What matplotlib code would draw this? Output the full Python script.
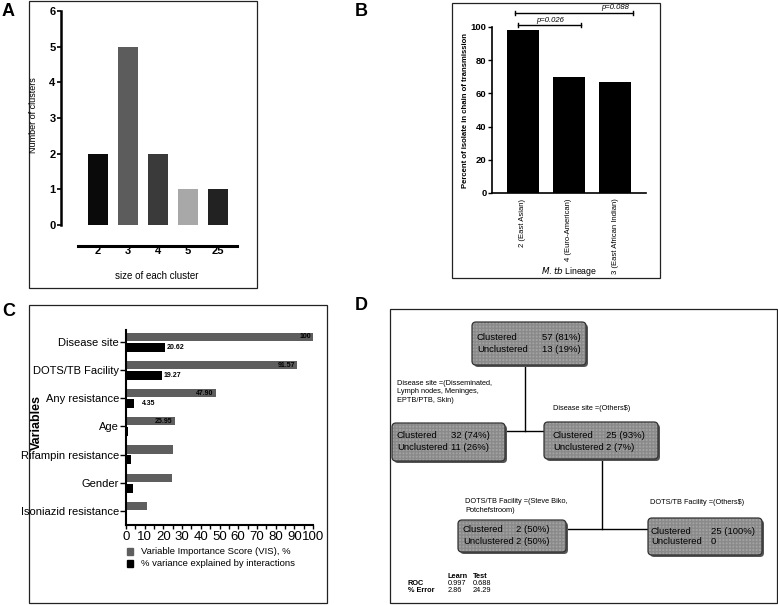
import matplotlib
matplotlib.use("Agg")
import matplotlib.pyplot as plt
from matplotlib.patches import Rectangle, FancyBboxPatch
import numpy as np

plt.rcParams['font.family'] = ['Liberation Sans', 'DejaVu Sans']

W, H = 778, 605

# ---------------- data ----------------
# Panel A
cluster_sizes = ['2', '3', '4', '5', '25']
num_clusters = [2, 5, 2, 1, 1]
a_colors = ['#0a0a0a', '#5c5c5c', '#3a3a3a', '#a8a8a8', '#222222']

# Panel B
lineages = ['2 (East Asian)', '4 (Euro-American)', '3 (East African Indian)']
percent_in_chain = [98, 70, 67]
p_values = ['p=0.026', 'p=0.088']

# Panel C
variables = ['Disease site', 'DOTS/TB Facility', 'Any resistance', 'Age',
             'Rifampin resistance', 'Gender', 'Isoniazid resistance']
vis_scores = [100, 91.57, 47.90, 25.95, 25.0, 24.4, 11.0]
interaction_var = [20.62, 19.27, 4.35, 1.0, 2.6, 3.5, 0.6]
vis_labels = ['100', '91.57', '47.90', '25.95', '', '', '']
int_labels = ['20.62', '19.27', '4.35', '', '', '', '']

# Panel D
node_clustered = ['57 (81%)', '32 (74%)', '25 (93%)', '2 (50%)', '25 (100%)']
node_unclustered = ['13 (19%)', '11 (26%)', '2 (7%)', '2 (50%)', '0']
split_labels = ['Disease site =(Disseminated,\nLymph nodes, Meninges,\nEPTB/PTB, Skin)',
                'Disease site =(Others$)',
                'DOTS/TB Facility =(Steve Biko,\nPotchefstroom)',
                'DOTS/TB Facility =(Others$)']
table_cols = ['Learn', 'Test']
table_rows = ['ROC', '% Error']
table_vals = [['0.997', '0.688'], ['2.86', '24.29']]

# ---------------- figure ----------------
fig = plt.figure(figsize=(W / 100, H / 100), dpi=100)


def ax_px(left, top, right, bottom):
    return [left / W, 1 - bottom / H, (right - left) / W, (bottom - top) / H]


ov = fig.add_axes([0, 0, 1, 1])
ov.set_xlim(0, W)
ov.set_ylim(H, 0)
ov.axis('off')
ov.set_zorder(0)

# panel frames
for (l, t, r, b) in [(29, 0.5, 257, 288), (452, 3, 660, 278), (29, 305, 327, 603), (390, 309, 777, 603)]:
    ov.add_patch(Rectangle((l, t), r - l, b - t, fill=False, edgecolor='#222222', lw=0.9))

for lab, x, y in [('A', 2, 12), ('B', 355, 12), ('C', 2, 311), ('D', 355, 305)]:
    ov.text(x, y, lab, fontsize=13, fontweight='bold', ha='left', va='center')

# ---------------- Panel A ----------------
axA = fig.add_axes(ax_px(61, 11, 237, 225))
axA.set_zorder(1)
axA.patch.set_visible(False)
xa = np.arange(len(cluster_sizes))
axA.bar(xa, num_clusters, width=0.667, color=a_colors, edgecolor='none')
axA.set_xlim(-37 / 30, 139 / 30)
axA.set_ylim(0, 6)
for s in ['top', 'right']:
    axA.spines[s].set_visible(False)
axA.spines['left'].set_linewidth(1.8)
axA.spines['bottom'].set_position(('outward', 15))
axA.spines['bottom'].set_bounds(-20 / 30, 139 / 30)
axA.spines['bottom'].set_linewidth(2.2)
axA.set_xticks(xa)
axA.set_xticklabels(cluster_sizes, fontsize=8, fontweight='bold')
axA.tick_params(axis='x', length=0, pad=0)
axA.set_yticks(range(7))
axA.tick_params(axis='y', length=3, width=1.2, labelsize=8, pad=1)
for t in axA.get_yticklabels():
    t.set_fontweight('bold')
ov.text(157, 276, 'size of each cluster', fontsize=7, ha='center', va='center')
ov.text(34, 115, 'Number of clusters', fontsize=6.5, ha='center', va='center', rotation=90)

# ---------------- Panel B ----------------
axB = fig.add_axes(ax_px(492, 27, 646, 193))
axB.set_zorder(1)
axB.patch.set_visible(False)
xb = np.arange(len(lineages))
axB.bar(xb, percent_in_chain, width=32 / 46, color='black', edgecolor='none')
axB.set_xlim(-31 / 46, 123 / 46)
axB.set_ylim(0, 100)
for s in ['top', 'right']:
    axB.spines[s].set_visible(False)
axB.spines['left'].set_linewidth(1.2)
axB.spines['bottom'].set_linewidth(1.2)
axB.set_yticks(range(0, 101, 20))
axB.tick_params(axis='y', length=3, width=1, labelsize=6.8, pad=1)
for t in axB.get_yticklabels():
    t.set_fontweight('bold')
axB.set_xticks(xb)
axB.set_xticklabels(lineages, rotation=90, fontsize=5.5)
axB.tick_params(axis='x', length=0, pad=4)
ov.text(569, 272, r'$\it{M.tb}$ Lineage', fontsize=6.3, ha='center', va='center')
ov.text(466, 110, 'Percent of isolate in chain of transmission', fontsize=5.6,
        fontweight='bold', ha='center', va='center', rotation=90)

brackets = [(-0.11, 1.26, 101.2, 0.59, 103.8), (-0.17, 2.39, 108.4, 2.0, 111.6)]
for (x0, x1, yb, xt, yt), pv in zip(brackets, p_values):
    axB.plot([x0, x1], [yb, yb], color='black', lw=1, clip_on=False)
    for xx in (x0, x1):
        axB.plot([xx, xx], [yb - 1.2, yb + 1.2], color='black', lw=1, clip_on=False)
    axB.text(xt, yt, pv, fontsize=5.5, style='italic', ha='center', va='center', clip_on=False)

# ---------------- Panel C ----------------
axC = fig.add_axes(ax_px(126, 330, 313, 525))
axC.set_zorder(1)
axC.patch.set_visible(False)
yc = np.arange(len(variables))
axC.barh(yc - 0.18, vis_scores, height=0.29, color='#5e5e5e', edgecolor='none')
axC.barh(yc + 0.19, interaction_var, height=0.32, color='black', edgecolor='none')
axC.set_ylim(6.5, -0.426)
axC.set_xlim(0, 100)
for s in ['top', 'right']:
    axC.spines[s].set_visible(False)
axC.spines['left'].set_linewidth(1.5)
axC.spines['bottom'].set_linewidth(1.5)
axC.set_yticks(yc)
axC.set_yticklabels(variables, fontsize=8)
axC.tick_params(axis='y', length=4, width=1, pad=1)
axC.set_xticks(range(0, 101, 10))
axC.set_xticks(range(0, 101, 5), minor=True)
axC.tick_params(axis='x', which='both', length=3, width=1, labelsize=9.5, pad=1.5)
ov.text(37, 423, 'Variables', fontsize=9, fontweight='bold', ha='center', va='center',
        rotation=90, zorder=5)
for i, (v, lab) in enumerate(zip(vis_scores, vis_labels)):
    if lab:
        axC.text(v - 1, i - 0.18, lab, fontsize=5, fontweight='bold', ha='right', va='center')
for i, (v, lab) in enumerate(zip(interaction_var, int_labels)):
    if lab:
        axC.text(v + 1 if v > 10 else v + 4, i + 0.19, lab, fontsize=5, fontweight='bold',
                 ha='left', va='center')

# legend for C
ov.add_patch(Rectangle((127, 548), 6.5, 6.5, color='#5e5e5e'))
ov.add_patch(Rectangle((127, 560), 6.5, 6.5, color='black'))
ov.text(141, 551.5, 'Variable Importance Score (VIS), %', fontsize=6.8, va='center')
ov.text(141, 563.5, '% variance explained by interactions', fontsize=6.8, va='center')

# ---------------- Panel D (tree) ----------------
# nodes: (left, top, right, bottom, x_label, x_value, y_line1, y_line2)
nodes = [(472, 322, 586, 365, 477, 542, 338, 350),
         (392, 423, 505, 461, 397, 451, 436, 447),
         (544, 422, 658, 459, 553, 606, 436, 447),
         (458, 520, 566, 552, 463, 516, 530, 541),
         (648, 518, 762, 555, 651, 711, 531, 542)]
for (l, t, r, b, xl, xv, y1, y2), c, u in zip(nodes, node_clustered, node_unclustered):
    ov.add_patch(FancyBboxPatch((l + 2, t + 2), r - l, b - t, boxstyle='round,pad=0,rounding_size=4',
                                facecolor='#555555', edgecolor='none', zorder=2))
    ov.add_patch(FancyBboxPatch((l, t), r - l, b - t, boxstyle='round,pad=0,rounding_size=4',
                                facecolor='#a2a2a2', edgecolor='#8a8a8a', lw=0, hatch='+++++', zorder=3))
    ov.add_patch(FancyBboxPatch((l, t), r - l, b - t, boxstyle='round,pad=0,rounding_size=4',
                                facecolor='none', edgecolor='#333333', lw=0.9, zorder=4))
    ov.text(xl, y1, 'Clustered', fontsize=6.8, va='center', ha='left', zorder=5)
    ov.text(xl, y2, 'Unclustered', fontsize=6.8, va='center', ha='left', zorder=5)
    ov.text(xv, y1, c, fontsize=6.8, va='center', ha='left', zorder=5)
    ov.text(xv, y2, u, fontsize=6.8, va='center', ha='left', zorder=5)

lk = dict(color='black', lw=1, zorder=1)
ov.plot([525, 525], [365, 431], **lk)
ov.plot([505, 544], [431, 431], **lk)
ov.plot([602, 602], [459, 529], **lk)
ov.plot([566, 648], [529, 529], **lk)

ov.text(397, 380, split_labels[0], fontsize=5.3, va='top', ha='left', linespacing=1.25)
ov.text(553, 409, split_labels[1], fontsize=5.3, va='center', ha='left')
ov.text(465, 506, split_labels[2], fontsize=5.3, va='center', ha='left', linespacing=1.25)
ov.text(650, 503, split_labels[3], fontsize=5.3, va='center', ha='left')

col_x = [448, 473]
for cx, cn in zip(col_x, table_cols):
    ov.text(cx, 576, cn, fontsize=5.3, fontweight='bold', va='center', ha='left')
for ri, (rn, vals) in enumerate(zip(table_rows, table_vals)):
    yy = 583.5 + ri * 7.5
    ov.text(408, yy, rn, fontsize=5.3, fontweight='bold', va='center', ha='left')
    for cx, v in zip(col_x, vals):
        ov.text(cx, yy, v, fontsize=5.3, va='center', ha='left')

fig.savefig('out.png', dpi=100)
